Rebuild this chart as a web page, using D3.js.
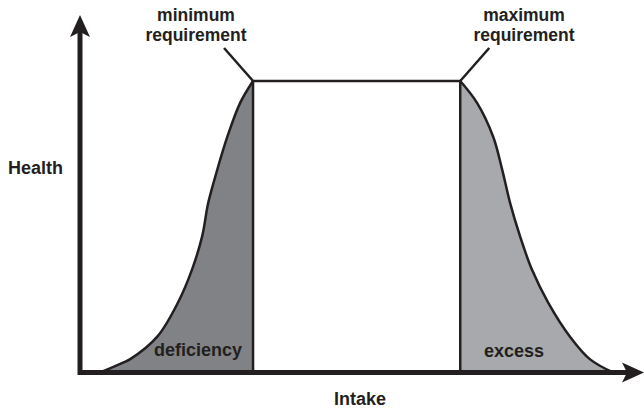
<!DOCTYPE html>
<html>
<head>
<meta charset="utf-8">
<script src="https://cdn.jsdelivr.net/npm/d3@7.9.0/dist/d3.min.js"></script>
<style>
  html, body { margin: 0; padding: 0; background: #fff; }
  svg text { font-family: 'Liberation Sans', Arial, Helvetica, sans-serif; font-weight: bold; font-size: 18px; fill: #231f20; }
</style>
</head>
<body>
<svg id="chart" width="644" height="408"></svg>
<script>
// intake (0-100) vs health (0-100, 100 = optimal plateau)
const intakeRising = [3.6, 7.7, 8.9, 13.8, 17.5, 20.0, 21.8, 22.9, 24.5, 26.3, 28.6, 30.9];
const healthRising = [0, 3.4, 4.5, 12.3, 24.0, 35.3, 46.6, 58.2, 69.5, 80.8, 92.5, 100];

const intakeFalling = [67.9, 70.9, 73.8, 75.4, 76.8, 78.6, 80.7, 83.6, 87.5, 91.1, 95.2];
const healthFalling = [100, 92.5, 80.8, 69.5, 58.2, 46.6, 35.3, 24.0, 12.3, 4.5, 0];

const minRequirement = 30.9;
const maxRequirement = 67.9;

const regionLabels = ['deficiency', 'excess'];
const calloutLabels = [['minimum', 'requirement'], ['maximum', 'requirement']];

const width = 644;
const height = 408;
const ink = '#231f20';

const x = d3.scaleLinear().domain([0, 100]).range([80, 640]);
const y = d3.scaleLinear().domain([0, 100]).range([372.5, 81]);

const svg = d3.select('#chart');

const rising = intakeRising.map((d, i) => ({ x: d, y: healthRising[i] }));
const falling = intakeFalling.map((d, i) => ({ x: d, y: healthFalling[i] }));

const smooth = d3.curveCatmullRom.alpha(0.5);

const area = d3.area()
  .x(d => x(d.x))
  .y0(y(0))
  .y1(d => y(d.y))
  .curve(smooth);

const line = d3.line()
  .x(d => x(d.x))
  .y(d => y(d.y))
  .curve(smooth);

// shaded zones
svg.append('path').datum(rising).attr('d', area).attr('fill', '#808285');
svg.append('path').datum(falling).attr('d', area).attr('fill', '#a7a9ac');

// curve outlines
svg.selectAll('.curve')
  .data([rising, falling])
  .join('path')
  .attr('class', 'curve')
  .attr('d', line)
  .attr('fill', 'none')
  .attr('stroke', ink)
  .attr('stroke-width', 2.5);

// plateau box
svg.append('path')
  .attr('d', `M${x(minRequirement)},${y(0)} V${y(100)} H${x(maxRequirement)} V${y(0)}`)
  .attr('fill', 'none')
  .attr('stroke', ink)
  .attr('stroke-width', 2.5)
  .attr('stroke-linejoin', 'miter');

// callout ticks
svg.append('line')
  .attr('x1', x(minRequirement)).attr('y1', y(100))
  .attr('x2', x(minRequirement) - 29).attr('y2', y(100) - 33)
  .attr('stroke', ink).attr('stroke-width', 2.5);
svg.append('line')
  .attr('x1', x(maxRequirement)).attr('y1', y(100))
  .attr('x2', x(maxRequirement) + 29).attr('y2', y(100) - 33)
  .attr('stroke', ink).attr('stroke-width', 2.5);

// axes with arrowheads
const x0 = x(0), yBase = y(0);
const yTop = 15, xEnd = 644;
svg.append('path')
  .attr('d', `M${x0},${yTop + 17} V${yBase} H${xEnd - 17}`)
  .attr('fill', 'none')
  .attr('stroke', ink)
  .attr('stroke-width', 5)
  .attr('stroke-linejoin', 'miter');
svg.append('path')
  .attr('d', `M${x0},${yTop} L${x0 - 10},${yTop + 22} L${x0},${yTop + 17} L${x0 + 10},${yTop + 22} Z`)
  .attr('fill', ink);
svg.append('path')
  .attr('d', `M${xEnd},${yBase} L${xEnd - 22},${yBase - 10} L${xEnd - 17},${yBase} L${xEnd - 22},${yBase + 10} Z`)
  .attr('fill', ink);

// axis titles
svg.append('text').attr('x', 8).attr('y', 174).text('Health');
svg.append('text').attr('x', 360).attr('y', 405).attr('text-anchor', 'middle').text('Intake');

// region labels
svg.append('text').attr('x', 198).attr('y', 356).attr('text-anchor', 'middle').text(regionLabels[0]);
svg.append('text').attr('x', 514).attr('y', 357).attr('text-anchor', 'middle').text(regionLabels[1]);

// callout labels
[[196, calloutLabels[0]], [524, calloutLabels[1]]].forEach(([cx, lines]) => {
  lines.forEach((s, i) => {
    svg.append('text')
      .attr('x', cx)
      .attr('y', 21 + i * 20)
      .attr('text-anchor', 'middle')
      .style('font-size', '17.5px')
      .text(s);
  });
});
</script>
</body>
</html>
